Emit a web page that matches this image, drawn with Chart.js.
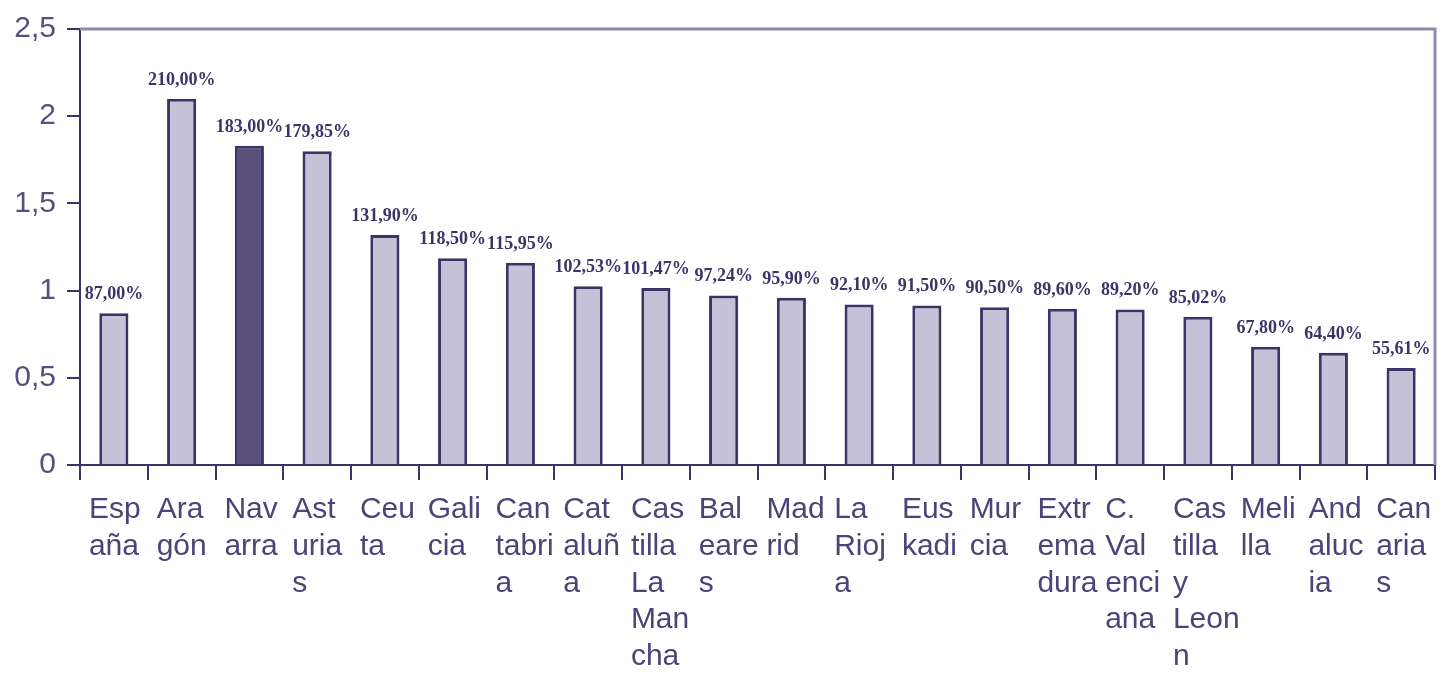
<!DOCTYPE html>
<html>
<head>
<meta charset="utf-8">
<script src="https://cdn.jsdelivr.net/npm/chart.js@4.4.1/dist/chart.umd.min.js"></script>
<style>
  html, body { margin: 0; padding: 0; background: #fff; }
  #wrap { width: 1445px; height: 675px; }
</style>
</head>
<body>
<div id="wrap"><canvas id="chart" width="1445" height="675"></canvas></div>
<script>
// categories, split into lines the way the original axis wraps them
const regions = [
  ["Esp", "aña"], ["Ara", "gón"], ["Nav", "arra"], ["Ast", "uria", "s"], ["Ceu", "ta"],
  ["Gali", "cia"], ["Can", "tabri", "a"], ["Cat", "aluñ", "a"], ["Cas", "tilla", "La", "Man", "cha"],
  ["Bal", "eare", "s"], ["Mad", "rid"], ["La", "Rioj", "a"], ["Eus", "kadi"], ["Mur", "cia"],
  ["Extr", "ema", "dura"], ["C.", "Val", "enci", "ana"], ["Cas", "tilla", "y", "Leon", "n"],
  ["Meli", "lla"], ["And", "aluc", "ia"], ["Can", "aria", "s"]
];
const ratios = [0.87, 2.10, 1.83, 1.7985, 1.319, 1.185, 1.1595, 1.0253, 1.0147, 0.9724,
  0.959, 0.921, 0.915, 0.905, 0.896, 0.892, 0.8502, 0.678, 0.644, 0.5561];
const yTicks = [0, 0.5, 1, 1.5, 2, 2.5];
const highlight = "Nav";

const DARK = "#3b3468";
const TEXT = "#4a4479";

const fills = regions.map(r => r[0] === highlight ? "#5b5079" : "#c5c1d6");

const fmtPct = v => (v * 100).toFixed(2).replace(".", ",") + "%";

const valueLabels = {
  id: "valueLabels",
  afterDatasetsDraw(chart) {
    const ctx = chart.ctx;
    const meta = chart.getDatasetMeta(0);
    ctx.save();
    ctx.font = "bold 18px 'Liberation Serif', serif";
    ctx.fillStyle = DARK;
    ctx.textAlign = "center";
    ctx.textBaseline = "alphabetic";
    meta.data.forEach((bar, i) => {
      ctx.fillText(fmtPct(ratios[i]), bar.x, bar.y - 14);
    });
    ctx.restore();
  }
};

// light frame on top and right of the plot
const frame = {
  id: "frame",
  beforeDatasetsDraw(chart) {
    const { ctx, chartArea: a } = chart;
    ctx.save();
    ctx.strokeStyle = "#908bab";
    ctx.lineWidth = 3;
    ctx.beginPath();
    ctx.moveTo(a.left, a.top);
    ctx.lineTo(a.right, a.top);
    ctx.lineTo(a.right, a.bottom);
    ctx.stroke();
    ctx.restore();
  }
};

new Chart(document.getElementById("chart"), {
  type: "bar",
  data: {
    labels: regions,
    datasets: [{
      data: ratios,
      backgroundColor: fills,
      borderColor: DARK,
      borderWidth: 3,
      borderSkipped: "bottom",
      barPercentage: 0.43,
      categoryPercentage: 1
    }]
  },
  options: {
    responsive: false,
    animation: false,
    layout: { padding: { top: 27, right: 10, left: 0, bottom: 0 } },
    plugins: { legend: { display: false }, tooltip: { enabled: false } },
    scales: {
      x: {
        offset: true,
        grid: { drawOnChartArea: false, drawTicks: true, tickLength: 15, color: DARK, lineWidth: 2, offset: true },
        border: { color: DARK, width: 2 },
        ticks: {
          autoSkip: false,
          maxRotation: 0,
          minRotation: 0,
          align: "start",
          labelOffset: -25,
          padding: 11,
          color: TEXT,
          font: { family: "'Liberation Sans', Arial, sans-serif", size: 30, lineHeight: 1.23 }
        },
        afterFit(scale) {
          scale.height = 210;
          scale.paddingLeft = 0;
          scale.paddingRight = 0;
        }
      },
      y: {
        min: 0,
        max: 2.5,
        afterBuildTicks(scale) { scale.ticks = yTicks.map(v => ({ value: v })); },
        grid: { drawOnChartArea: false, drawTicks: true, tickLength: 13, color: DARK, lineWidth: 2 },
        border: { color: DARK, width: 2 },
        ticks: {
          padding: 11,
          color: "#55507f",
          font: { family: "'Liberation Sans', Arial, sans-serif", size: 30 },
          callback: v => String(v).replace(".", ",")
        },
        afterFit(scale) { scale.width = 80; }
      }
    }
  },
  plugins: [frame, valueLabels]
});
</script>
</body>
</html>
